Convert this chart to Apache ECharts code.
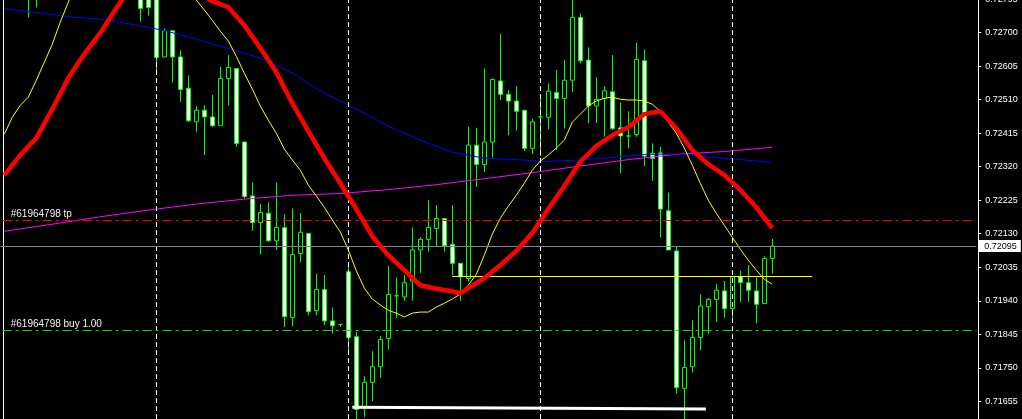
<!DOCTYPE html>
<html><head><meta charset="utf-8">
<style>html,body{margin:0;padding:0;background:#000;overflow:hidden}#c{width:1022px;height:419px}</style>
<script src="https://cdn.jsdelivr.net/npm/echarts@6/dist/echarts.min.js"></script>
</head><body><div id="c"></div>
<script>
// H1 bars, index 0..96 (bars 0-2 and 5-16 lie above the visible price range)
const opens = [null,null,null,0.72809,0.72800,null,null,null,null,null,null,null,null,null,null,null,null,
0.72815,0.72805,0.72800,0.72631,0.72705,0.72631,0.72542,0.72447,0.72480,0.72461,0.72436,0.72570,0.72598,0.72390,
0.72237,0.72162,0.72188,0.72110,0.72147,0.71893,0.72074,0.72131,0.71912,0.71972,0.71883,0.71873,0.72022,0.71838,
0.71638,0.71709,0.71753,0.71833,0.71954,0.71951,0.71996,0.72084,0.72114,0.72145,0.72173,0.72100,0.72046,0.72003,
0.72381,0.72326,0.72390,0.72563,0.72525,0.72506,0.72480,0.72372,0.72461,0.72460,0.72530,0.72513,0.72565,0.72743,
0.72622,0.72492,0.72513,0.72532,0.72430,0.72407,0.72411,0.72620,0.72358,0.72359,0.72195,0.72081,0.71692,0.71753,
0.71836,0.71923,0.71944,0.71968,0.71918,0.72008,0.71991,0.71968,0.71932,0.72060];
const closes = [null,null,null,0.72798,0.72812,null,null,null,null,null,null,null,null,null,null,null,null,
0.72768,0.72771,0.72630,0.72705,0.72631,0.72539,0.72450,0.72480,0.72461,0.72436,0.72570,0.72601,0.72386,0.72235,
0.72162,0.72190,0.72110,0.72148,0.71895,0.72071,0.72134,0.71909,0.71972,0.71883,0.71869,0.71873,0.71836,0.71632,
0.71709,0.71753,0.71830,0.71958,0.71954,0.71991,0.72084,0.72114,0.72148,0.72173,0.72096,0.72046,0.72008,0.72381,
0.72326,0.72390,0.72567,0.72525,0.72506,0.72477,0.72372,0.72447,0.72461,0.72534,0.72513,0.72565,0.72743,0.72620,
0.72492,0.72511,0.72535,0.72428,0.72407,0.72407,0.72624,0.72350,0.72343,0.72200,0.72084,0.71694,0.71751,0.71836,
0.71925,0.71944,0.71970,0.71918,0.72008,0.71992,0.71970,0.71930,0.72060,0.72095];
const lows = [null,null,null,0.72743,0.72771,null,null,null,null,null,null,null,null,null,null,null,null,
0.72731,0.72748,0.72586,0.72630,0.72558,0.72504,0.72447,0.72419,0.72353,0.72433,0.72436,0.72494,0.72376,0.72230,
0.72138,0.72072,0.72107,0.72084,0.71866,0.71868,0.72049,0.71899,0.71899,0.71871,0.71847,0.71866,0.71795,0.71596,
0.71611,0.71656,0.71722,0.71802,0.71891,0.71940,0.71940,0.72019,0.72079,0.72093,0.72079,0.72013,0.71940,0.71994,
0.72263,0.72305,0.72346,0.72509,0.72409,0.72422,0.72365,0.72356,0.72350,0.72426,0.72367,0.72428,0.72532,0.72613,
0.72443,0.72444,0.72405,0.72424,0.72301,0.72372,0.72405,0.72322,0.72280,0.72120,0.72084,0.71677,0.71596,0.71737,
0.71800,0.71847,0.71880,0.71892,0.71892,0.71937,0.71937,0.71876,0.71932,0.72017];
const highs = [null,null,null,0.72835,0.72830,null,null,null,null,null,null,null,null,null,null,null,null,
0.72830,0.72815,0.72808,0.72712,0.72705,0.72650,0.72579,0.72492,0.72494,0.72523,0.72603,0.72636,0.72598,0.72390,
0.72275,0.72214,0.72219,0.72275,0.72185,0.72202,0.72188,0.72131,0.72017,0.72013,0.71921,0.71873,0.72041,0.71852,
0.71726,0.71797,0.71840,0.72038,0.72006,0.72013,0.72148,0.72120,0.72225,0.72211,0.72173,0.72211,0.72046,0.72433,
0.72430,0.72598,0.72570,0.72696,0.72537,0.72548,0.72480,0.72455,0.72520,0.72556,0.72594,0.72622,0.72795,0.72754,
0.72658,0.72573,0.72548,0.72636,0.72502,0.72477,0.72671,0.72652,0.72386,0.72376,0.72247,0.72093,0.71828,0.71885,
0.71958,0.71948,0.71987,0.71996,0.72008,0.72025,0.72041,0.72006,0.72066,0.72115];

// moving averages: [bar index, price]
const maRed = [[0,0.72296],[2,0.72353],[4,0.72401],[6,0.72483],[8,0.72571],[10,0.72639],[12,0.72699],[14,0.72769],
[16,0.72834],[18,0.72871],[20,0.72883],[22,0.72854],[24,0.72815],[26,0.72789],[28,0.72772],[30,0.72721],[32,0.72656],
[34,0.72588],[36,0.72500],[38,0.72421],[40,0.72344],[42,0.72273],[44,0.72200],[46,0.72123],[48,0.72069],[50,0.72027],
[52,0.71984],[54,0.71974],[56,0.71967],[57,0.71961],[58,0.71976],[60,0.72004],[62,0.72041],[64,0.72081],[66,0.72132],
[68,0.72200],[70,0.72265],[72,0.72334],[74,0.72378],[76,0.72409],[78,0.72432],[80,0.72469],[82,0.72477],[84,0.72429],
[86,0.72367],[88,0.72327],[90,0.72296],[92,0.72254],[94,0.72205],[96,0.72146]];
const maYellow = [[0,0.72412],[1,0.72460],[2,0.72494],[3,0.72517],[4,0.72565],[5,0.72616],[6,0.72667],[7,0.72730],
[8,0.72786],[10,0.72905],[13,0.72990],[17,0.73005],[21,0.72920],[23,0.72843],[24,0.72792],[25,0.72764],[26,0.72735],
[27,0.72704],[28,0.72676],[29,0.72633],[30,0.72585],[31,0.72540],[32,0.72492],[33,0.72452],[34,0.72415],[35,0.72370],
[36,0.72339],[37,0.72310],[38,0.72268],[39,0.72237],[40,0.72205],[41,0.72169],[42,0.72135],[43,0.72084],[44,0.72025],
[45,0.71976],[46,0.71945],[47,0.71928],[48,0.71913],[49,0.71905],[50,0.71894],[51,0.71905],[52,0.71908],[53,0.71908],
[54,0.71922],[55,0.71933],[56,0.71945],[57,0.71959],[58,0.71984],[59,0.72015],[60,0.72069],[61,0.72129],[62,0.72174],
[63,0.72208],[64,0.72239],[65,0.72273],[66,0.72310],[67,0.72336],[68,0.72353],[69,0.72373],[70,0.72395],[71,0.72446],
[72,0.72469],[73,0.72492],[74,0.72506],[75,0.72514],[76,0.72517],[77,0.72511],[78,0.72509],[79,0.72509],[80,0.72506],
[81,0.72497],[82,0.72477],[83,0.72446],[84,0.72415],[85,0.72373],[86,0.72324],[87,0.72273],[88,0.72225],[89,0.72188],
[90,0.72154],[91,0.72120],[92,0.72086],[93,0.72055],[94,0.72027],[95,0.72001],[96,0.71987]];
const maBlue = [[0,0.72768],[4,0.72757],[8,0.72745],[12,0.72738],[16,0.72723],[20,0.72706],[24,0.72681],[28,0.72655],
[32,0.72628],[36,0.72585],[40,0.72528],[44,0.72483],[48,0.72435],[52,0.72395],[56,0.72361],[60,0.72344],[64,0.72340],
[68,0.72335],[72,0.72339],[76,0.72346],[80,0.72355],[84,0.72356],[88,0.72347],[92,0.72340],[96,0.72332]];
const maMagenta = [[0,0.72137],[6,0.72157],[12,0.72178],[18,0.72197],[24,0.72214],[30,0.72228],[36,0.72239],[42,0.72244],
[48,0.72255],[54,0.72269],[60,0.72286],[66,0.72303],[72,0.72322],[78,0.72340],[84,0.72355],[90,0.72363],[96,0.72375]];

const yTicks = [0.72795,0.72700,0.72605,0.72510,0.72415,0.72320,0.72225,0.72130,0.72035,0.71940,0.71845,0.71750,0.71655];
const daySeparators = [19,43,67,91];
const tpPrice = 0.72168, buyPrice = 0.71856, bidPrice = 0.72095;
const tpText = '#61964798 tp', buyText = '#61964798 buy 1.00';
const levelLine = {from:56, to:101, price:0.72009};
const supportLine = {from:43.5, to:87.7, p1:0.71638, p2:0.71633};
const SLOTS = 122;
const yMin = 0.71605, yMax = 0.72798;

const slotLabels = [];
for (let i = 0; i < SLOTS; i++) slotLabels.push(String(i));
const candleData = opens.map((o,i) => o == null ? ['-','-','-','-'] : [o, closes[i], lows[i], highs[i]]);

const chart = echarts.init(document.getElementById('c'), null, {renderer:'canvas'});
const fontFam = '"Liberation Sans", Arial, sans-serif';
const maSeries = (data, color, width, z) => ({type:'line', xAxisIndex:1, yAxisIndex:0, data, showSymbol:false, symbol:'none',
  lineStyle:{color, width}, z, silent:true, animation:false});

chart.setOption({
  backgroundColor:'#000',
  animation:false,
  grid:{left:0.3, right:45.7, top:-2, bottom:0, containLabel:false, outerBoundsMode:'none'},
  xAxis:[
    {type:'category', data:slotLabels, boundaryGap:true, show:false},
    {type:'value', min:-0.5, max:SLOTS-0.5, show:false}
  ],
  yAxis:[
    {type:'value', position:'right', min:yMin, max:yMax, offset:2,
     axisLine:{show:true, onZero:false, lineStyle:{color:'#ffffff', width:1}},
     axisTick:{show:true, inside:false, length:3, customValues:yTicks, lineStyle:{color:'#ffffff'}},
     axisLabel:{show:true, customValues:yTicks, formatter:v=>v.toFixed(5), color:'#ffffff', fontSize:9, fontFamily:fontFam, margin:7},
     splitLine:{show:false}},
    {type:'value', position:'left', min:yMin, max:yMax, offset:-2.5,
     axisLine:{show:true, onZero:false, lineStyle:{color:'#ffffff', width:1}},
     axisTick:{show:false}, axisLabel:{show:false}, splitLine:{show:false}}
  ],
  series:[
    {type:'line', xAxisIndex:1, yAxisIndex:0, data:[], silent:true, z:1,
     markLine:{silent:true, symbol:['none','none'], animation:false,
      data:[
        ...daySeparators.map(d => ({xAxis:d, lineStyle:{color:'#ffffff', width:1, type:[5,3]}, label:{show:false}})),
        [{coord:[-0.2, tpPrice], lineStyle:{color:'#ff0000', width:1, type:[9,4,3,4]},
          label:{show:true, position:'insideStartTop', formatter:tpText, color:'#f2f2f2', fontSize:10, fontFamily:fontFam, distance:[8,1]}},
         {coord:[SLOTS-0.5, tpPrice]}],
        [{coord:[-0.2, buyPrice], lineStyle:{color:'#22cc22', width:1, type:[9,4,3,4]},
          label:{show:true, position:'insideStartTop', formatter:buyText, color:'#f2f2f2', fontSize:10, fontFamily:fontFam, distance:[8,1]}},
         {coord:[SLOTS-0.5, buyPrice]}],
        [{coord:[-0.5, bidPrice], lineStyle:{color:'#778899', width:1, type:'solid'},
          label:{show:true, position:'end', formatter:bidPrice.toFixed(5), color:'#000', backgroundColor:'#ffffff',
                 fontSize:9, fontFamily:fontFam, padding:[2,4,1,6], distance:2}},
         {coord:[SLOTS-0.5, bidPrice]}],
        [{coord:[levelLine.from, levelLine.price], lineStyle:{color:'#ffff00', width:1, type:'solid'}, label:{show:false}},
         {coord:[levelLine.to, levelLine.price]}],
        [{coord:[supportLine.from, supportLine.p1], lineStyle:{color:'#ffffff', width:3, type:'solid'}, label:{show:false}},
         {coord:[supportLine.to, supportLine.p2]}]
      ]}},
    {type:'candlestick', xAxisIndex:0, yAxisIndex:0, data:candleData, barWidth:4, z:3, silent:true, animation:false,
     itemStyle:{color:'#000000', color0:'#ffffff', borderColor:'#00ff00', borderColor0:'#00ff00', borderColorDoji:'#00ff00', borderWidth:1}},
    maSeries(maMagenta, '#ff00ff', 1, 4),
    maSeries(maBlue, '#0000ff', 1, 4),
    maSeries(maYellow, '#ffff00', 1, 4),
    maSeries(maRed, '#ff0000', 4.5, 5)
  ]
});
</script></body></html>
